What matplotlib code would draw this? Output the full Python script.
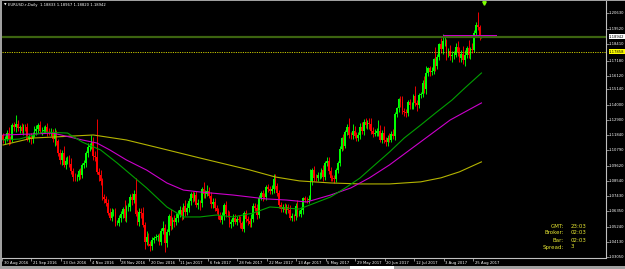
import matplotlib
matplotlib.use("Agg")
import matplotlib.pyplot as plt
import matplotlib.transforms as mtransforms
from matplotlib.patches import Rectangle

# ---------------- data ----------------
first_open = 1.1182
closes = [
    1.1146, 1.1157, 1.1196, 1.1155,
    1.1151, 1.1256, 1.1240, 1.1262, 1.1233,
    1.1242, 1.1216, 1.1245, 1.1241, 1.1155,
    1.1170, 1.1153, 1.1188, 1.1212, 1.1226,
    1.1254, 1.1212, 1.1217, 1.1222, 1.1240,
    1.1209, 1.1203, 1.1205, 1.1153, 1.1201,
    1.1143, 1.1055, 1.1004, 1.1053, 1.0972,
    1.0999, 1.1006, 1.0974, 1.0928, 1.0884,
    1.0880, 1.0885, 1.0922, 1.0897, 1.0966,
    1.0981, 1.1054, 1.1099, 1.1104, 1.1137,
    1.1031, 1.1024, 1.0918, 1.0893, 1.0855,
    1.0735, 1.0723, 1.0696, 1.0625, 1.0587,
    1.0627, 1.0632, 1.0550, 1.0550, 1.0586,
    1.0614, 1.0648, 1.0587, 1.0663, 1.0664,
    1.0736, 1.0717, 1.0758, 1.0613, 1.0557,
    1.0633, 1.0623, 1.0534, 1.0413, 1.0451,
    1.0402, 1.0383, 1.0427, 1.0440, 1.0453,
    1.0454, 1.0410, 1.0494, 1.0517,
    1.0404, 1.0486, 1.0604, 1.0531,
    1.0573, 1.0555, 1.0583, 1.0615, 1.0641,
    1.0602, 1.0672, 1.0632, 1.0661, 1.0706,
    1.0756, 1.0733, 1.0750, 1.0683, 1.0698,
    1.0691, 1.0798, 1.0763, 1.0763, 1.0782,
    1.0748, 1.0685, 1.0704, 1.0656, 1.0640,
    1.0603, 1.0575, 1.0600, 1.0678, 1.0617,
    1.0616, 1.0541, 1.0557, 1.0587, 1.0561,
    1.0581, 1.0574, 1.0547, 1.0508, 1.0622,
    1.0581, 1.0565, 1.0545, 1.0582, 1.0672,
    1.0655, 1.0605, 1.0734, 1.0765, 1.0741,
    1.0740, 1.0812, 1.0797, 1.0781, 1.0799,
    1.0866, 1.0814, 1.0767, 1.0680, 1.0652,
    1.0667, 1.0643, 1.0664, 1.0646, 1.0590,
    1.0600, 1.0598, 1.0674, 1.0614, 1.0617,
    1.0643, 1.0727, 1.0719, 1.0716, 1.0724,
    1.0856, 1.0930, 1.0877, 1.0875, 1.0895,
    1.0898, 1.0929, 1.0884, 1.0980, 1.0998,
    1.0927, 1.0876, 1.0873, 1.0864, 1.0933,
    1.0980, 1.1087, 1.1160, 1.1104, 1.1208,
    1.1245, 1.1185, 1.1183, 1.1212, 1.1180,
    1.1163, 1.1183, 1.1245, 1.1214, 1.1280,
    1.1254, 1.1273, 1.1261, 1.1211, 1.1195,
    1.1202, 1.1211, 1.1215, 1.1151, 1.1198,
    1.1147, 1.1133, 1.1166, 1.1152, 1.1195,
    1.1181, 1.1335, 1.1377, 1.1444, 1.1424,
    1.1357, 1.1348, 1.1345, 1.1422, 1.1400,
    1.1400, 1.1465, 1.1415, 1.1398, 1.1470,
    1.1477, 1.1557, 1.1514, 1.1634, 1.1665,
    1.1641, 1.1649, 1.1731, 1.1679, 1.1750,
    1.1840, 1.1803, 1.1860, 1.1860, 1.1774,
    1.1792, 1.1753, 1.1761, 1.1765, 1.1821,
    1.1781, 1.1739, 1.1770, 1.1724, 1.1760,
    1.1812, 1.1762, 1.1807, 1.1798, 1.1923,
    1.1978, 1.1967, 1.18833, 1.18942,
]
upper_wick_pips = [
    18, 22, 28, 44,
    20, 12, 26, 65, 28,
    18, 30, 22, 20, 30,
    25, 28, 20, 35, 32,
    20, 30, 25, 30, 20,
    32, 25, 28, 22, 35,
    20, 15, 30, 25, 50,
    25, 30, 35, 45, 20,
    25, 20, 20, 25, 15,
    20, 15, 25, 20, 45,
    30, 40, 275, 30, 40,
    20, 25, 25, 30, 35,
    30, 20, 25, 20, 25,
    25, 20, 70, 20, 30,
    25, 30, 30, 116, 30,
    25, 25, 44, 20, 40,
    25, 20, 20, 20, 20,
    20, 25, 20, 45,
    24, 20, 11, 45,
    20, 35, 40, 30, 30,
    25, 20, 45, 35, 25,
    20, 25, 25, 30, 25,
    20, 15, 45, 25, 45,
    30, 25, 25, 30, 25,
    20, 25, 30, 15, 30,
    25, 20, 25, 30, 25,
    20, 30, 25, 15, 15,
    25, 20, 20, 35, 20,
    25, 30, 20, 15, 25,
    25, 10, 20, 20, 25,
    40, 35, 25, 20, 25,
    20, 25, 20, 25, 35,
    20, 15, 20, 40, 25,
    25, 10, 20, 20, 25,
    81, 20, 30, 30, 20,
    20, 20, 40, 20, 25,
    30, 30, 20, 25, 15,
    15, 15, 10, 30, 12,
    20, 60, 20, 50, 40,
    25, 25, 25, 30, 20,
    30, 20, 35, 50, 35,
    25, 25, 80, 40, 20,
    50, 25, 20, 30, 20,
    30, 14, 10, 5, 25,
    45, 25, 25, 15, 25,
    20, 15, 75, 25, 20,
    20, 25, 50, 45, 10,
    20, 25, 10, 85, 20,
    10, 45, 50, 30, 19,
    20, 45, 30, 25, 25,
    40, 35, 30, 55, 40,
    15, 60, 15, 40, 18,
    25, 92, 8, 2.5,
]
lower_wick_pips = [
    20, 25, 15, 40,
    30, 20, 25, 30, 20,
    35, 20, 30, 25, 15,
    20, 30, 25, 20, 30,
    25, 15, 30, 20, 25,
    30, 20, 25, 20, 45,
    30, 20, 25, 35, 20,
    30, 25, 20, 25, 30,
    25, 30, 25, 30, 25,
    20, 30, 25, 30, 20,
    25, 30, 12, 40, 30,
    20, 30, 25, 20, 15,
    25, 25, 20, 15, 20,
    30, 25, 20, 30, 25,
    30, 40, 25, 13, 20,
    25, 35, 12, 47, 20,
    15, 31, 25, 20, 15,
    30, 20, 20, 25,
    64, 25, 20, 30,
    25, 30, 20, 25, 20,
    30, 25, 30, 25, 30,
    25, 30, 25, 20, 30,
    50, 25, 30, 30, 20,
    20, 25, 30, 20, 25,
    25, 20, 30, 25, 20,
    25, 20, 25, 30, 20,
    25, 20, 30, 15, 20,
    25, 30, 25, 20, 25,
    20, 25, 20, 20, 30,
    20, 25, 20, 25, 20,
    30, 20, 20, 25, 20,
    25, 20, 25, 20, 20,
    25, 30, 25, 20, 15,
    20, 25, 20, 25, 20,
    5, 30, 25, 20, 25,
    25, 20, 30, 25, 20,
    20, 25, 20, 25, 20,
    20, 20, 15, 30, 15,
    25, 25, 30, 25, 20,
    25, 20, 30, 20, 30,
    20, 25, 30, 20, 25,
    20, 25, 30, 20, 25,
    20, 25, 30, 20, 20,
    25, 30, 20, 25, 35,
    20, 25, 30, 20, 25,
    25, 30, 20, 40, 20,
    20, 20, 25, 30, 25,
    30, 20, 25, 30, 20,
    25, 30, 35, 35, 45,
    25, 30, 45, 30, 20,
    25, 25, 30, 25, 45,
    20, 25, 30, 20, 15,
    20, 27, 15, 1.3,
]

# moving averages (bar index, price)
fast_ma_bars = [0, 9, 22, 35, 43, 53, 62, 71, 78, 89, 98, 107, 116, 125, 136, 145,
                161, 178, 186, 194, 202, 210, 218, 227, 235, 244, 251, 260]
fast_ma = [1.1149, 1.1156, 1.1206, 1.1199, 1.1134, 1.1077, 1.0983, 1.0882, 1.0803,
           1.0666, 1.0594, 1.0594, 1.0608, 1.0594, 1.0622, 1.0666, 1.0651, 1.0738,
           1.0803, 1.0875, 1.0969, 1.1062, 1.1163, 1.1257, 1.1343, 1.1437, 1.1524, 1.1632]
mid_ma_bars = [0, 16, 27, 43, 51, 58, 67, 78, 89, 98, 107, 125, 143, 154, 165, 178,
               189, 199, 210, 221, 232, 243, 251, 260]
mid_ma = [1.1185, 1.1192, 1.1199, 1.1149, 1.1127, 1.1077, 1.1005, 1.0932, 1.0839,
          1.0788, 1.0774, 1.0752, 1.0724, 1.0716, 1.0702, 1.0752, 1.0803, 1.0875,
          1.0969, 1.1077, 1.1185, 1.1293, 1.1351, 1.1416]
slow_ma_bars = [0, 16, 27, 49, 67, 85, 107, 134, 148, 161, 178, 194, 210, 227, 238, 248, 260]
slow_ma = [1.1113, 1.1163, 1.1170, 1.1185, 1.1149, 1.1091, 1.1019, 1.0933, 1.0882,
           1.0854, 1.0839, 1.0832, 1.0832, 1.0847, 1.0876, 1.0919, 1.0991]

date_labels = ["30 Aug 2016", "21 Sep 2016", "13 Oct 2016", "4 Nov 2016", "28 Nov 2016",
               "20 Dec 2016", "11 Jan 2017", "6 Feb 2017", "28 Feb 2017", "22 Mar 2017",
               "13 Apr 2017", "5 May 2017", "29 May 2017", "20 Jun 2017", "12 Jul 2017",
               "3 Aug 2017", "25 Aug 2017"]
date_label_bars = [0, 16, 32, 48, 64, 80, 96, 112, 128, 144, 160, 176, 192, 208, 224, 240, 256]

price_ticks = [1.20630, 1.19520, 1.18410, 1.17180, 1.16120, 1.15140, 1.14000, 1.12900,
               1.11840, 1.10790, 1.09620, 1.08540, 1.07430, 1.06350, 1.05240, 1.04130, 1.03050]
bid_price = 1.18942
level_price = 1.17858
level_segment = (239, 268, 1.1906)
header_text = "EURUSD.r,Daily  1.18833 1.18967 1.18820 1.18942"
info_keys = ["GMT:", "Broker:", "Bar:", "Spread:"]
info_vals = ["23:03", "02:03", "02:03", "3"]

# ---------------- drawing ----------------
W, H = 625, 269
fig = plt.figure(figsize=(W / 100, H / 100), dpi=100, facecolor="black")
ax = fig.add_axes([2 / W, (H - 257.5) / H, (606 - 2) / W, (257.5 - 1) / H])
ax.set_facecolor("black")
ax.set_xlim(-0.54, 327.7)
ax.set_ylim(1.03016, 1.21510)

small = ["DejaVu Sans"]
FS = 2.7

opens = [first_open] + closes[:-1]
bull_c, bear_c = "#00ff00", "#ff0000"
for i, (o, c) in enumerate(zip(opens, closes)):
    hi = max(o, c) + upper_wick_pips[i] * 0.0001
    lo = min(o, c) - lower_wick_pips[i] * 0.0001
    col = bull_c if c >= o else bear_c
    ax.vlines(i, lo, hi, color=col, lw=0.65)
    body = max(abs(c - o), 0.00012)
    ax.bar(i, body, bottom=min(o, c), width=0.9, color=col, linewidth=0)

ax.plot(slow_ma_bars, slow_ma, color="#b4b400", lw=0.8)
ax.plot(mid_ma_bars, mid_ma, color="#cc00cc", lw=0.8)
ax.plot(fast_ma_bars, fast_ma, color="#00a000", lw=0.8)

ax.axhline(bid_price, color="#3c6410", lw=1.6)
ax.axhline(level_price, color="#c8c800", lw=0.7, ls=(0, (1.2, 1.2)))
ax.plot([level_segment[0], level_segment[1]], [level_segment[2]] * 2, color="#cc00cc", lw=0.7)
ax.plot([261.4], [1.2140], marker="v", color="#7cff00", ms=2.5, lw=0)

for s in ["top", "left"]:
    ax.spines[s].set_visible(False)
for s in ["right", "bottom"]:
    ax.spines[s].set_color("#c0c0c0")
    ax.spines[s].set_linewidth(0.8)

ax.set_xticks([b - 0.6 for b in date_label_bars])
ax.set_xticklabels([])
ax.tick_params(axis="x", colors="#c0c0c0", length=2, width=0.5, direction="out")
ax.yaxis.tick_right()
ax.set_yticks(price_ticks)
ax.set_yticklabels([])
ax.tick_params(axis="y", colors="#c0c0c0", length=2, width=0.5, direction="out")

xtr = mtransforms.blended_transform_factory(ax.transData, ax.transAxes)
for b, lab in zip(date_label_bars, date_labels):
    ax.text(b + 0.3, -0.012, lab, transform=xtr,
            color="white", fontsize=FS, family=small, ha="left", va="top")

ytr = mtransforms.blended_transform_factory(ax.transAxes, ax.transData)
for p in price_ticks:
    ax.text(1.005, p, f"{p:.5f}", transform=ytr, color="white", fontsize=FS,
            family=small, ha="left", va="center", clip_on=False)
for p, bg in [(bid_price, "white"), (level_price, "#ffff00")]:
    ax.text(1.005, p, f"{p:.5f}", transform=ytr, color="black", fontsize=FS, family=small,
            ha="left", va="center",
            bbox=dict(boxstyle="square,pad=0.12", fc=bg, ec="none"))

fig.text(3.5 / W, 1 - 5 / H, "\u25bc", color="white", fontsize=2.4, family=["DejaVu Sans"], va="center")
fig.text(8 / W, 1 - 5 / H, header_text, color="white", fontsize=FS, family=small, va="center")

for k, (key, val) in enumerate(zip(info_keys, info_vals)):
    y = 1 - (226 + 7 * k) / H
    fig.text(564 / W, y, key, color="#e6e632", fontsize=4.0, family=small, ha="right", va="center")
    fig.text(571 / W, y, val, color="#e6e632", fontsize=4.0, family=small, ha="left", va="center")

# window frame and tab bar
fig.patches.append(Rectangle((0, 0), 2 / W, 1, transform=fig.transFigure, fc="#a0a0a0", ec="none"))
fig.patches.append(Rectangle((0, 1 - 1 / H), 1, 1 / H, transform=fig.transFigure, fc="#a0a0a0", ec="none"))
fig.patches.append(Rectangle((0, 0), 1, 3 / H, transform=fig.transFigure, fc="#a0a0a0", ec="none"))
fig.patches.append(Rectangle((350 / W, 0), 44 / W, 3 / H, transform=fig.transFigure, fc="white", ec="none"))

fig.savefig("out.png", dpi=100, facecolor="black")
